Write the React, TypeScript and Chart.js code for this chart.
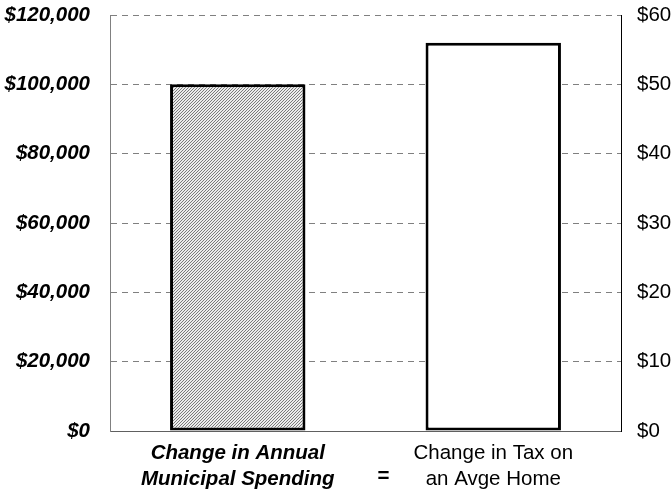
import React, { useEffect, useRef } from "react";
import { Chart, registerables } from "chart.js";

Chart.register(...registerables);

const categories: string[][] = [
  ["Change in Annual", "Municipal Spending"],
  ["Change in Tax on", "an Avge Home"],
];
const spendingValues: (number | null)[] = [100000, null];
const taxValues: (number | null)[] = [null, 56];
const leftTicks = { min: 0, max: 120000, step: 20000 };
const rightTicks = { min: 0, max: 60, step: 10 };
const equalsSign = "=";

const FONT = "'Liberation Sans', Arial, sans-serif";
const SIZE = 20.5;

function makeHatch(): CanvasPattern | string {
  const c = document.createElement("canvas");
  c.width = 3;
  c.height = 3;
  const g = c.getContext("2d");
  if (!g) return "#aaa";
  g.fillStyle = "#ececec";
  g.fillRect(0, 0, 3, 3);
  g.fillStyle = "#7a7a7a";
  g.fillRect(0, 2, 1, 1);
  g.fillRect(1, 1, 1, 1);
  g.fillRect(2, 0, 1, 1);
  return g.createPattern(c, "repeat") || "#aaa";
}

const equalsPlugin = {
  id: "equalsSign",
  afterDraw(chart: any) {
    const x = chart.scales.x;
    const ctx = chart.ctx;
    const mid = (x.getPixelForValue(0) + x.getPixelForValue(1)) / 2 + 18;
    ctx.save();
    ctx.font = `bold ${SIZE}px ${FONT}`;
    ctx.fillStyle = "#000";
    ctx.textAlign = "center";
    ctx.textBaseline = "middle";
    ctx.fillText(equalsSign, mid, chart.chartArea.bottom + 45);
    ctx.restore();
  },
};

const noPad = (s: any) => {
  s.paddingTop = 0;
  s.paddingBottom = 0;
};

export default function App() {
  const ref = useRef<HTMLCanvasElement>(null);
  useEffect(() => {
    if (!ref.current) return;
    const chart = new Chart(ref.current, {
      type: "bar",
      data: {
        labels: categories,
        datasets: [
          {
            data: spendingValues,
            yAxisID: "y",
            backgroundColor: makeHatch(),
            borderColor: "#000",
            borderWidth: 3,
            borderSkipped: false,
            grouped: false,
          } as any,
          {
            data: taxValues,
            yAxisID: "y1",
            backgroundColor: "#fff",
            borderColor: "#000",
            borderWidth: 3,
            borderSkipped: false,
            grouped: false,
          } as any,
        ],
      },
      options: {
        animation: false,
        responsive: false,
        maintainAspectRatio: false,
        layout: { padding: { top: 15, bottom: 0, left: 0, right: 0 } },
        datasets: { bar: { barPercentage: 0.53, categoryPercentage: 1 } },
        plugins: { legend: { display: false }, tooltip: { enabled: false } },
        scales: {
          x: {
            grid: { display: false },
            border: { display: true, color: "#606060", width: 1 },
            ticks: {
              color: "#000",
              padding: 1,
              font: (ctx: any) =>
                ctx.index === 0
                  ? { family: FONT, size: SIZE, weight: "bold", style: "italic", lineHeight: 1.27 }
                  : { family: FONT, size: SIZE, weight: "normal", lineHeight: 1.27 },
            },
            afterFit: (s: any) => {
              s.height = 60;
              s.paddingLeft = 0;
              s.paddingRight = 0;
            },
          },
          y: {
            position: "left",
            min: leftTicks.min,
            max: leftTicks.max,
            ticks: {
              stepSize: leftTicks.step,
              color: "#000",
              padding: 20,
              font: { family: FONT, size: SIZE, weight: "bold", style: "italic" },
              callback: (v: any) => "$" + Number(v).toLocaleString("en-US"),
            },
            grid: { color: "#808080", drawTicks: false },
            border: { display: true, color: "#808080", dash: [6, 5] },
            afterFit: (s: any) => {
              s.width = 110;
              noPad(s);
            },
          },
          y1: {
            position: "right",
            min: rightTicks.min,
            max: rightTicks.max,
            ticks: {
              stepSize: rightTicks.step,
              color: "#000",
              padding: 16,
              font: { family: FONT, size: SIZE },
              callback: (v: any) => "$" + v,
            },
            grid: { drawOnChartArea: false, drawTicks: false },
            border: { display: true, color: "#000" },
            afterFit: (s: any) => {
              s.width = 51;
              noPad(s);
            },
          },
        },
      } as any,
      plugins: [equalsPlugin],
    });
    return () => chart.destroy();
  }, []);
  return (
    <div style={{ position: "absolute", left: 0, top: 0, width: 672, height: 491, background: "#fff" }}>
      <canvas ref={ref} width={672} height={491} style={{ width: 672, height: 491 }} />
    </div>
  );
}
